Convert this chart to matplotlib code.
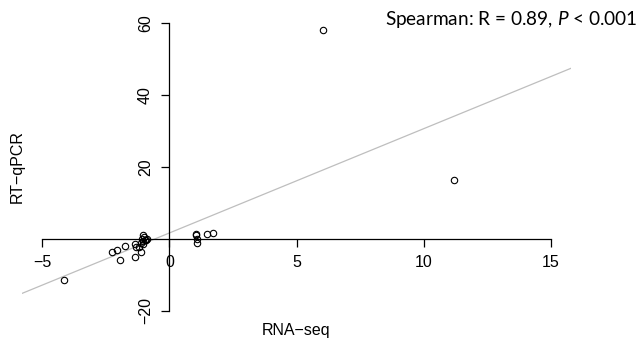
import numpy as np
import matplotlib
matplotlib.use("Agg")
import matplotlib.pyplot as plt

plt.rcParams["font.family"] = ["Liberation Sans", "DejaVu Sans"]
plt.rcParams["mathtext.fontset"] = "custom"
plt.rcParams["mathtext.rm"] = "Lato"
plt.rcParams["mathtext.it"] = "Lato:italic"

# Fold changes per gene: RNA-seq vs RT-qPCR
rna_seq = [-4.15, -2.25, -2.07, -1.74, -1.96, -1.37, -1.33, -1.37, -1.11,
           -1.05, -1.01, -1.08, -1.05, -0.97, -1.12, -1.02, -1.20, -0.91, -0.87,
           1.06, 1.06, 1.07, 1.07, 1.46, 1.72, 6.06, 11.18]
rt_qpcr = [-11.4, -3.7, -3.1, -1.9, -5.8, -1.4, -2.1, -5.1, -3.5,
           1.1, 0.5, 0.0, -0.5, -0.3, -1.0, -1.4, -2.1, -0.3, 0.0,
           1.3, 1.0, -0.1, -1.2, 1.4, 1.8, 58.1, 16.4]

x_ticks = [-5, 0, 5, 10, 15]
y_ticks = [-20, 20, 40, 60]
x_label = "RNA\u2212seq"
y_label = "RT\u2212qPCR"
stat_text = r"Spearman: R = 0.89, $\mathit{P}$ < 0.001"

def minus(v):
    return str(v).replace("-", "\u2212")

W, H = 643, 342
fig = plt.figure(figsize=(W / 100, H / 100), dpi=100)
ax = fig.add_axes([22 / W, 19.5 / H, 549 / W, 311 / H])
ax.set_xlim(-5.8, 15.8)
ax.set_ylim(-23.2, 63.2)

x = np.array(rna_seq)
y = np.array(rt_qpcr)

# least-squares fit line across the plotting region
slope, intercept = np.polyfit(x, y, 1)
xl = np.array(ax.get_xlim())
ax.plot(xl, intercept + slope * xl, color="#bebebe", lw=0.9, zorder=1)

ax.plot(x, y, "o", mfc="none", mec="black", ms=4.6, mew=0.8, zorder=3)

# axes crossing at the origin
for side in ("top", "right"):
    ax.spines[side].set_visible(False)
ax.spines["left"].set_position(("data", 0))
ax.spines["bottom"].set_position(("data", 0))
ax.spines["left"].set_bounds(min(y_ticks), max(y_ticks))
ax.spines["bottom"].set_bounds(min(x_ticks), max(x_ticks))
for s in ("left", "bottom"):
    ax.spines[s].set_linewidth(0.9)

ax.set_xticks(x_ticks)
ax.set_xticklabels([minus(v) for v in x_ticks])
ax.set_yticks(y_ticks)
ax.set_yticklabels([minus(v) for v in y_ticks], rotation=90, va="center")
ax.tick_params(axis="both", direction="out", length=5.8, width=0.9,
               labelsize=11.5, pad=6)

fig.text(296.5 / W, 1 - 330 / H, x_label, ha="center", va="center", fontsize=11.5)
fig.text(17 / W, 1 - 167 / H, y_label, ha="center", va="center",
         rotation=90, fontsize=11.5)
fig.text(638 / W, 1 - 20 / H, stat_text, ha="right", va="center",
         fontsize=13.7, family="Lato")

fig.savefig("out.png", dpi=100)
